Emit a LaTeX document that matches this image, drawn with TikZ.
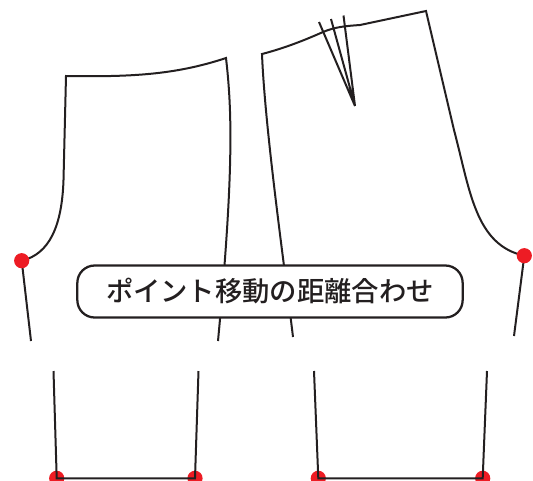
\documentclass[tikz,border=0pt]{standalone}
\usepackage{fontspec}
\usetikzlibrary{backgrounds}
\newfontfamily\cjk{Noto Sans CJK JP Medium}
\definecolor{ink}{HTML}{231F20}
\definecolor{pin}{HTML}{ED1C24}
\tikzset{
  patline/.style={draw=ink,line width=1.5pt,line join=miter},
  pindot/.style={circle,fill=pin,draw=none,minimum size=11.4pt,inner sep=0pt},
  tagbox/.style={draw=ink,fill=white,line width=1.7pt,rounded corners=13pt,minimum width=289pt,minimum height=39pt,inner sep=0pt,font=\cjk\fontsize{20.5pt}{24pt}\selectfont,text=ink}
}
\begin{document}
\begin{tikzpicture}[x=0.75pt,y=-0.75pt]
\useasboundingbox (0,0) rectangle (533,480);
% left piece
\coordinate (lwa) at (66,76);
\coordinate (lwb) at (226,58);
\coordinate (lhem) at (218,341);
\coordinate (lout) at (31,341);
\coordinate (llo1) at (53.5,371);
\coordinate (llo2) at (198.5,371);
\node[pindot] (d1) at (21.7,260.7) {};
% right piece
\coordinate (rwa) at (262,54);
\coordinate (rwb) at (426,11);
\coordinate (rhem) at (293,337);
\coordinate (rout) at (514,336);
\coordinate (rlo1) at (314,371);
\coordinate (rlo2) at (487,371);
\coordinate (tip) at (355,106);
\coordinate (da) at (319,22);
\coordinate (db) at (331,19);
\coordinate (dc) at (343.5,15.5);
\node[pindot] (d4) at (524.3,255.7) {};
\begin{pgfonlayer}{background}
\clip (0,0) rectangle (533,480);
\node[pindot] (d2) at (56.7,478.3) {};
\node[pindot] (d3) at (195,478.3) {};
\node[pindot] (d5) at (318.3,478.3) {};
\node[pindot] (d6) at (482.7,478.3) {};
\draw[patline] (d1.center) .. controls (50,254) and (62,225) .. (63.5,180) -- (lwa)
  .. controls (130,77) and (175,75) .. (lwb)
  .. controls (232,110) and (234,170) .. (lhem);
\draw[patline] (d1.center) -- (lout);
\draw[patline] (llo1) -- (d2.center) -- (d3.center) -- (llo2);
\draw[patline] (rhem) .. controls (285,270) and (265,130) .. (rwa)
  .. controls (285,48) and (305,40) .. (323,32)
  .. controls (335,27) and (345,26) .. (360,25) -- (rwb)
  -- (454,130) .. controls (470,190) and (475,245) .. (d4.center);
\draw[patline] (d4.center) -- (rout);
\draw[patline] (rlo1) -- (d5.center) -- (d6.center) -- (rlo2);
\draw[patline] (da) -- (tip) -- (db) (tip) -- (dc);
\end{pgfonlayer}
\node[tagbox] (tag) at (270,291.5) {ポイント移動の距離合わせ};
\end{tikzpicture}
\end{document}
